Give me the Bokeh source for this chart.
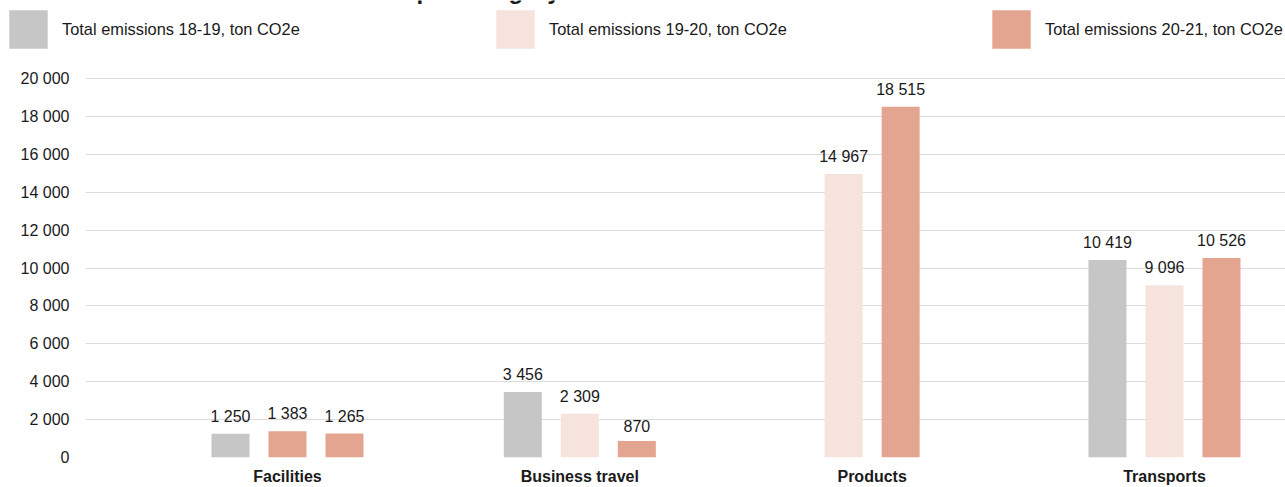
from bokeh.plotting import figure
from bokeh.layouts import column
from bokeh.models import (ColumnDataSource, Range1d, FixedTicker, Legend, LegendItem, Label)
from bokeh.core.properties import value
from bokeh.embed import file_html
from bokeh.resources import INLINE

# ---- data ----
categories = ["Facilities", "Business travel", "Products", "Transports"]
series_names = ["Total emissions 18-19, ton CO2e",
                "Total emissions 19-20, ton CO2e",
                "Total emissions 20-21, ton CO2e"]
em_18_19 = [1250, 3456, None, 10419]
em_19_20 = [1383, 2309, 14967, 9096]
em_20_21 = [1265, 870, 18515, 10526]
y_ticks = [0, 2000, 4000, 6000, 8000, 10000, 12000, 14000, 16000, 18000, 20000]
title_text = "Emissions per category"

# ---- styles ----
GRAY = "#C6C6C6"
PINK = "#F6E3DE"
SALMON = "#E4A590"
series_colors = [
    [GRAY, GRAY, GRAY, GRAY],
    [SALMON, PINK, PINK, PINK],   # facilities bar appears in the darker shade in the reference
    [SALMON, SALMON, SALMON, SALMON],
]
FONT = "Liberation Sans"
TXT = "#1a1a1a"
BAR_W = 0.13
STEP = 0.195

series = [em_18_19, em_19_20, em_20_21]

# offsets: present bars are centered on their category
xs = {0: [], 1: [], 2: []}
for ci in range(len(categories)):
    present = [s for s in range(3) if series[s][ci] is not None]
    n = len(present)
    for k, s in enumerate(present):
        xs[s].append((ci, ci + (k - (n - 1) / 2) * STEP))

# ---- legend / title strip ----
lf = figure(width=1285, height=60, output_backend="svg", toolbar_location=None,
            x_range=Range1d(0, 1285), y_range=Range1d(0, 60),
            x_axis_type=None, y_axis_type=None, min_border=0, frame_align=False)
lf.title.visible = False
lf.outline_line_color = None
lf.xgrid.visible = False
lf.ygrid.visible = False

# ---- main chart ----
p = figure(width=1285, height=427, output_backend="svg", toolbar_location=None,
           x_range=Range1d(-0.691, 3.414), y_range=Range1d(0, 20950),
           min_border_left=85, min_border_right=0, min_border_top=0, min_border_bottom=30,
           frame_align=False)
p.title.visible = False
p.outline_line_color = None

sources = []
for s in range(3):
    cis = [c for c, _ in xs[s]]
    src = ColumnDataSource(dict(
        x=[x for _, x in xs[s]],
        top=[series[s][c] for c in cis],
        color=[series_colors[s][c] for c in cis],
        label=[f"{series[s][c]:,}".replace(",", " ") for c in cis],
    ))
    sources.append(src)
    p.vbar(x="x", top="top", bottom=0, width=BAR_W, source=src,
           fill_color="color", line_color=None)
    p.text(x="x", y="top", text="label", source=src, text_align="center",
           text_baseline="bottom", y_offset=-9, text_font=value(FONT),
           text_font_size="16px", text_color=TXT)

# legends, one per series (renderers hidden in the strip, only used for the swatch)
leg_x = [4, 491, 987]
for s in range(3):
    r = lf.vbar(x="x", top="top", bottom=0, width=BAR_W, source=sources[s],
                fill_color="color", line_color=None, visible=False)
    item = LegendItem(label=series_names[s], renderers=[r], index=1 if s == 1 else 0)
    lg = Legend(items=[item], location=(leg_x[s], 7), orientation="horizontal",
                glyph_width=48, glyph_height=48, label_standoff=10, padding=0, margin=0,
                border_line_color=None, background_fill_alpha=0, click_policy="none",
                label_text_font=FONT, label_text_font_size="16.4px", label_text_color=TXT)
    lf.add_layout(lg)

# title (mostly off canvas at the top)
lf.add_layout(Label(x=560, y=70, x_units="screen", y_units="screen", text=title_text,
                    text_align="right", text_baseline="alphabetic", text_font=FONT,
                    text_font_style="bold", text_font_size="24px", text_color=TXT))

# axes
p.xaxis.ticker = FixedTicker(ticks=list(range(len(categories))))
p.xaxis.major_label_overrides = {i: c for i, c in enumerate(categories)}
p.xaxis.axis_line_color = None
p.xaxis.major_tick_line_color = None
p.xaxis.minor_tick_line_color = None
p.xaxis.major_tick_out = 0
p.xaxis.major_tick_in = 0
p.xaxis.minor_tick_out = 0
p.xaxis.major_label_standoff = 10
p.xaxis.major_label_text_font = FONT
p.xaxis.major_label_text_font_style = "bold"
p.xaxis.major_label_text_font_size = "16px"
p.xaxis.major_label_text_color = TXT

p.yaxis.ticker = FixedTicker(ticks=y_ticks)
p.yaxis.major_label_overrides = {t: f"{t:,}".replace(",", " ") for t in y_ticks}
p.yaxis.axis_line_color = None
p.yaxis.major_tick_line_color = None
p.yaxis.minor_tick_line_color = None
p.yaxis.major_tick_out = 0
p.yaxis.major_tick_in = 0
p.yaxis.minor_tick_out = 0
p.yaxis.major_label_standoff = 16
p.yaxis.major_label_text_font = FONT
p.yaxis.major_label_text_font_size = "16px"
p.yaxis.major_label_text_color = TXT

p.xgrid.grid_line_color = None
p.ygrid.ticker = FixedTicker(ticks=y_ticks)
p.ygrid.grid_line_color = "#DCDCDC"
p.ygrid.grid_line_width = 1

layout = column(lf, p, spacing=0)
open("out.html", "w").write(file_html(layout, INLINE))
